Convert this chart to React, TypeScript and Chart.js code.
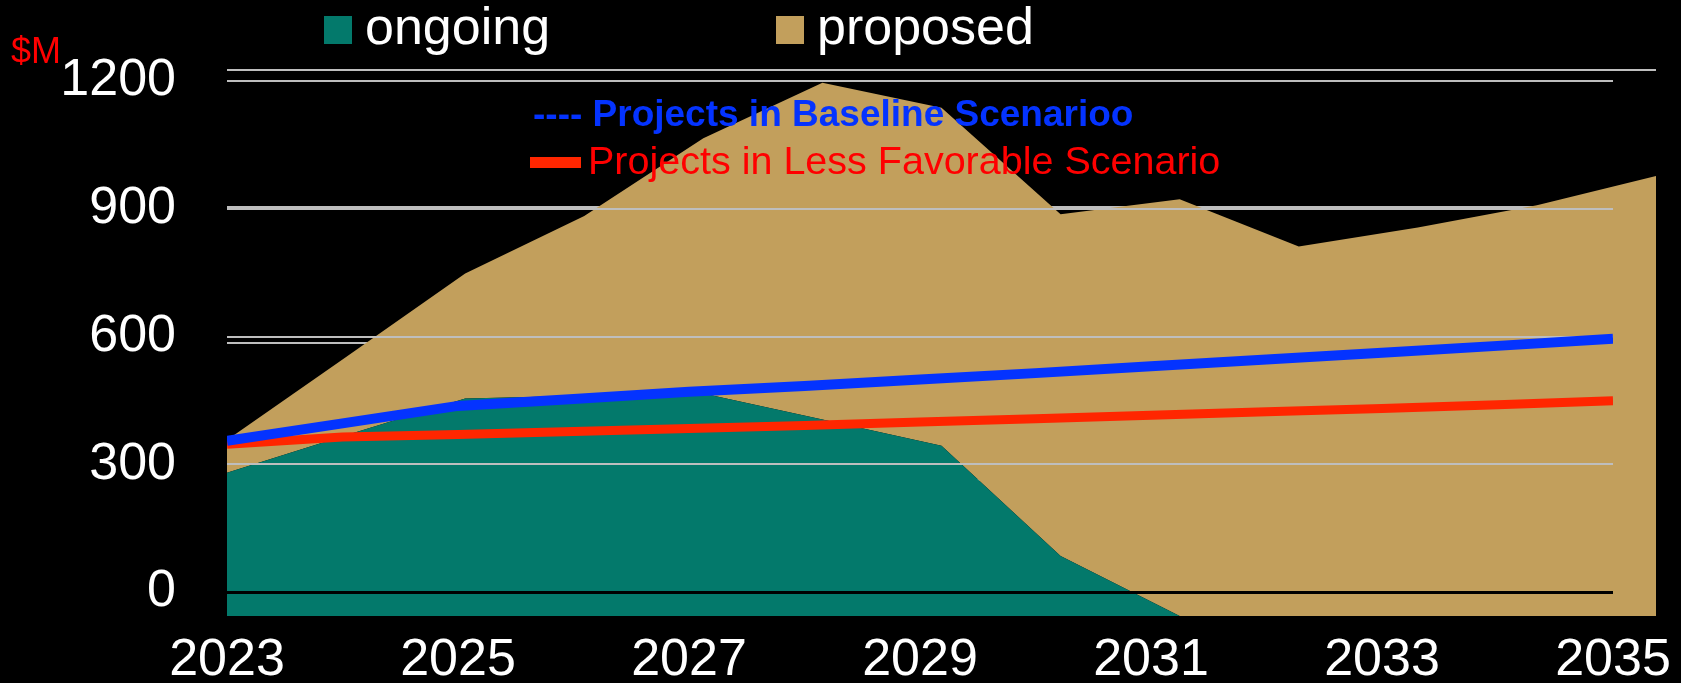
import React, { useEffect, useRef } from "react";
import { Chart, registerables } from "chart.js";

Chart.register(...registerables);

// ---------- data ----------
const areaYears = ["2023", "2024", "2025", "2026", "2027", "2028", "2029", "2030", "2031", "2032", "2033", "2034", "2035"];
const ongoing = [315, 397, 478, 484, 489, 432, 374, 132, 0, 0, 0, 0, 0];
const proposed = [72, 172, 275, 395, 561, 740, 743, 751, 916, 812, 854, 903, 967];

const lineYears = [2023, 2024, 2025, 2026, 2027, 2028, 2029, 2030, 2031, 2032, 2033, 2034, 2035];
const baselineScenario = [355, 396, 437, 453, 470, 484, 499, 514, 530, 546, 562, 578, 595];
const lessFavorableScenario = [347, 364, 370, 377, 384, 391, 399, 407, 415, 423, 431, 440, 449];

const xTickYears = [2023, 2025, 2027, 2029, 2031, 2033, 2035];
const yTickValues = [0, 300, 600, 900, 1200];

const areaLabels = ["ongoing", "proposed"];
const areaColors = ["#03796b", "#c29f5c"];
const lineLabels = ["Projects in Baseline Scenarioo", "Projects in Less Favorable Scenario"];
const lineColors = ["#0433ff", "#ff2600"];
const unitLabel = "$M";

const FONT = '"Liberation Sans", Arial, Helvetica, sans-serif';
const W = 1681;
const H = 683;

export default function App() {
  const areaRef = useRef<HTMLCanvasElement | null>(null);
  const lineRef = useRef<HTMLCanvasElement | null>(null);

  useEffect(() => {
    const areaChart = new Chart(areaRef.current as HTMLCanvasElement, {
      type: "line",
      data: {
        labels: areaYears,
        datasets: [
          {
            label: areaLabels[0],
            data: ongoing,
            fill: "origin",
            backgroundColor: areaColors[0],
            borderColor: areaColors[0],
            borderWidth: 0,
            pointRadius: 0,
            tension: 0,
          },
          {
            label: areaLabels[1],
            data: proposed,
            fill: "-1",
            backgroundColor: areaColors[1],
            borderColor: areaColors[1],
            borderWidth: 0,
            pointRadius: 0,
            tension: 0,
          },
        ],
      },
      options: {
        animation: false,
        responsive: false,
        maintainAspectRatio: false,
        layout: { padding: { left: 227, right: 25, top: 70, bottom: 67 } },
        plugins: { legend: { display: false }, tooltip: { enabled: false } },
        scales: {
          x: { display: false, offset: false },
          y: {
            stacked: true,
            min: 0,
            max: 1200,
            ticks: { stepSize: 300, display: false },
            grid: {
              color: (c: any) => (c.tick && c.tick.value === 0 ? "rgba(0,0,0,0)" : "#bebebe"),
              lineWidth: 2,
              drawTicks: false,
            },
            border: { display: false },
            afterFit: (s: any) => {
              s.width = 0;
              s.paddingTop = 0;
              s.paddingBottom = 0;
            },
          },
        },
      },
    } as any);

    const lineChart = new Chart(lineRef.current as HTMLCanvasElement, {
      type: "line",
      data: {
        datasets: [
          {
            label: lineLabels[0],
            data: lineYears.map((x, i) => ({ x, y: baselineScenario[i] })),
            borderColor: lineColors[0],
            backgroundColor: lineColors[0],
            borderWidth: 10,
            pointRadius: 0,
            fill: false,
            tension: 0,
          },
          {
            label: lineLabels[1],
            data: lineYears.map((x, i) => ({ x, y: lessFavorableScenario[i] })),
            borderColor: lineColors[1],
            backgroundColor: lineColors[1],
            borderWidth: 9,
            pointRadius: 0,
            fill: false,
            tension: 0,
          },
        ],
      },
      options: {
        animation: false,
        responsive: false,
        maintainAspectRatio: false,
        layout: { padding: { left: 0, right: 68, top: 81, bottom: 0 } },
        plugins: { legend: { display: false }, tooltip: { enabled: false } },
        scales: {
          x: {
            type: "linear",
            min: lineYears[0],
            max: lineYears[lineYears.length - 1],
            afterBuildTicks: (s: any) => {
              s.ticks = xTickYears.map((v) => ({ value: v }));
            },
            ticks: {
              color: "#ffffff",
              font: { size: 52, family: FONT },
              padding: 37,
              maxRotation: 0,
              autoSkip: false,
              callback: (v: any) => String(v),
            },
            grid: { display: false, drawTicks: false },
            border: { display: false },
            afterFit: (s: any) => {
              s.height = 91;
              s.paddingLeft = 0;
              s.paddingRight = 0;
            },
          },
          y: {
            min: yTickValues[0],
            max: yTickValues[yTickValues.length - 1],
            afterBuildTicks: (s: any) => {
              s.ticks = yTickValues.map((v) => ({ value: v }));
            },
            ticks: {
              color: "#ffffff",
              font: { size: 52, family: FONT },
              padding: 51,
              callback: (v: any) => String(v),
            },
            grid: {
              color: (c: any) => (c.tick && c.tick.value === 0 ? "#000000" : "#bebebe"),
              lineWidth: (c: any) => (c.tick && c.tick.value === 0 ? 3 : 2),
              drawTicks: false,
            },
            border: { display: false },
            afterFit: (s: any) => {
              s.width = 227;
              s.paddingTop = 0;
              s.paddingBottom = 0;
            },
          },
        },
      },
    } as any);

    return () => {
      areaChart.destroy();
      lineChart.destroy();
    };
  }, []);

  const abs: React.CSSProperties = { position: "absolute", left: 0, top: 0, display: "block" };

  return (
    <div
      style={{
        position: "absolute",
        left: 0,
        top: 0,
        width: W,
        height: H,
        background: "#000",
        overflow: "hidden",
        fontFamily: FONT,
      }}
    >
      <canvas ref={areaRef} width={W} height={H} style={abs} />
      <canvas ref={lineRef} width={W} height={H} style={abs} />

      {/* top legend for the areas */}
      {[324, 776].map((left, i) => (
        <React.Fragment key={areaLabels[i]}>
          <div style={{ position: "absolute", left, top: 16, width: 28, height: 28, background: areaColors[i] }} />
          <span
            style={{
              position: "absolute",
              left: left + 41,
              top: 0,
              fontSize: 52,
              lineHeight: "52px",
              color: "#fff",
              whiteSpace: "nowrap",
            }}
          >
            {areaLabels[i]}
          </span>
        </React.Fragment>
      ))}

      {/* unit label */}
      <span
        style={{
          position: "absolute",
          left: 11,
          top: 32.8,
          fontSize: 36,
          lineHeight: "36px",
          color: "#ff0000",
          whiteSpace: "nowrap",
        }}
      >
        {unitLabel}
      </span>

      {/* inner legend for the lines */}
      <span
        style={{
          position: "absolute",
          left: 533,
          top: 95.4,
          fontSize: 37,
          lineHeight: "37px",
          fontWeight: "bold",
          color: lineColors[0],
          whiteSpace: "nowrap",
        }}
      >
        {"---- " + lineLabels[0]}
      </span>
      <div style={{ position: "absolute", left: 530, top: 157, width: 51, height: 10.5, background: lineColors[1] }} />
      <span
        style={{
          position: "absolute",
          left: 588,
          top: 140.6,
          fontSize: 39.5,
          lineHeight: "39.5px",
          color: "#ff0000",
          whiteSpace: "nowrap",
        }}
      >
        {lineLabels[1]}
      </span>
    </div>
  );
}
